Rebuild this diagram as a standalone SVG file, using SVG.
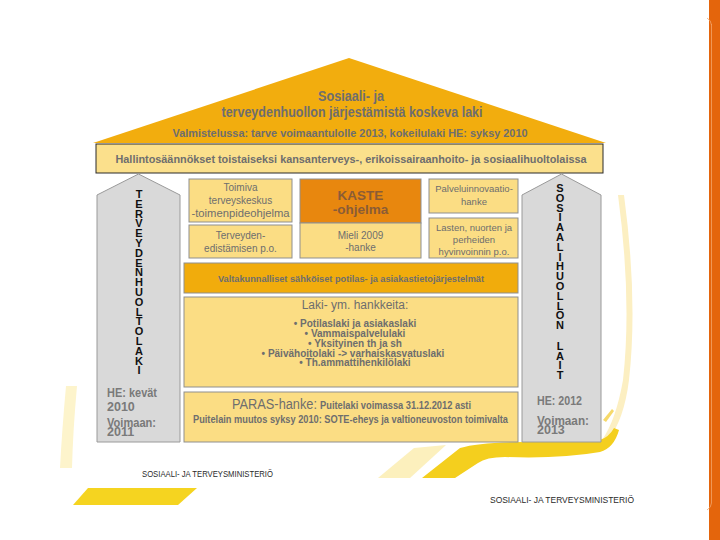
<svg xmlns="http://www.w3.org/2000/svg" width="720" height="540" viewBox="0 0 720 540">
<style>
  .t{font-family:"Liberation Sans",Arial,sans-serif;fill:#6e6e6e}
  .b{font-weight:bold}
  .c{text-anchor:middle}
  .lt{font-family:"Liberation Sans",Arial,sans-serif;font-weight:bold;font-size:11px;fill:#111;text-anchor:middle}
  .pil{fill:#d9d9d9;stroke:#9a9a9a;stroke-width:1}
  .lb{fill:#fbdd84;stroke:#8f8f8f;stroke-width:1}
  .gold{fill:#f1ac0c;stroke:#8f8f8f;stroke-width:1}
  .ft{font-family:"Liberation Sans",Arial,sans-serif;font-size:9.5px;fill:#2a2a2a}
  .ph{font-family:"Liberation Sans",Arial,sans-serif;font-weight:bold;font-size:12.5px;fill:#7a7a7a}
</style>
<rect x="0" y="0" width="720" height="540" fill="#ffffff"/>
<g id="decor">
  <path d="M66 386 L77 386 Q73 430 72 468 L60 468 Q62 430 66 386 Z" fill="#fdf4cc"/>
  <path d="M618 195 Q632 300 623 380 Q616 420 602 440 L608 440 Q624 420 629 380 Q638 300 624 195 Z" fill="#fcefc2"/>
  <path d="M378 478 L414 448 L446 445 L410 478 Z" fill="#fcf0bd"/>
  <path d="M422 478 L460 448 Q480 442 525 442 L600 440 Q609 437 614 428 L619 430 Q614 448 600 452 Q560 459 505 457 Q486 457 478 463 L455 478 Z" fill="#f4cf1e"/>
  <path d="M73 505 L88 488 L197 488 L178 505 Z" fill="#f5d420"/>
  <path d="M603 420 L612 409 L614 411 L606 422 Z" fill="#f6d96a"/>
</g>
<g id="roof">
  <polygon points="93,143 349,58 606,143" fill="#f2ad0e"/>
  <text class="t b c" x="351" y="101" font-size="14" textLength="66" lengthAdjust="spacingAndGlyphs">Sosiaali- ja</text>
  <text class="t b c" x="352" y="117" font-size="14" textLength="261" lengthAdjust="spacingAndGlyphs">terveydenhuollon järjestämistä koskeva laki</text>
  <text class="t b c" x="350" y="137" font-size="11.5" textLength="355" lengthAdjust="spacingAndGlyphs">Valmistelussa: tarve voimaantulolle 2013, kokeilulaki HE: syksy 2010</text>
</g>
<g id="header">
  <rect x="96" y="144" width="507" height="29" fill="#fbe08c" stroke="#2a2a2a" stroke-width="1"/>
  <text class="t b c" x="351" y="163" font-size="11.5" textLength="471" lengthAdjust="spacingAndGlyphs">Hallintosäännökset toistaiseksi kansanterveys-, erikoissairaanhoito-  ja sosiaalihuoltolaissa</text>
</g>
<g id="left-pillar">
  <polygon class="pil" points="97,195 138.5,174 180,195 180,442 97,442"/>
  <text class="lt">
    <tspan x="139" y="198">T</tspan><tspan x="139" y="207.8">E</tspan><tspan x="139" y="217.6">R</tspan><tspan x="139" y="227.4">V</tspan><tspan x="139" y="237.2">E</tspan><tspan x="139" y="247">Y</tspan><tspan x="139" y="256.8">D</tspan><tspan x="139" y="266.6">E</tspan><tspan x="139" y="276.4">N</tspan><tspan x="139" y="286.2">H</tspan><tspan x="139" y="296">U</tspan><tspan x="139" y="305.8">O</tspan><tspan x="139" y="315.6">L</tspan><tspan x="139" y="325.4">T</tspan><tspan x="139" y="335.2">O</tspan><tspan x="139" y="345">L</tspan><tspan x="139" y="354.8">A</tspan><tspan x="139" y="364.6">K</tspan><tspan x="139" y="374.4">I</tspan>
  </text>
  <text class="ph" x="107" y="397" textLength="50" lengthAdjust="spacingAndGlyphs">HE: kevät</text>
  <text class="ph" x="107" y="411">2010</text>
  <text class="ph" x="107" y="427" textLength="49" lengthAdjust="spacingAndGlyphs">Voimaan:</text>
  <text class="ph" x="107" y="436">2011</text>
</g>
<g id="right-pillar">
  <polygon class="pil" points="522,195 561.5,174 601,195 601,442 522,442"/>
  <text class="lt">
    <tspan x="560" y="192">S</tspan><tspan x="560" y="201.8">O</tspan><tspan x="560" y="211.6">S</tspan><tspan x="560" y="221.4">I</tspan><tspan x="560" y="231.2">A</tspan><tspan x="560" y="241">A</tspan><tspan x="560" y="250.8">L</tspan><tspan x="560" y="260.6">I</tspan><tspan x="560" y="270.4">H</tspan><tspan x="560" y="280.2">U</tspan><tspan x="560" y="290">O</tspan><tspan x="560" y="299.8">L</tspan><tspan x="560" y="309.6">L</tspan><tspan x="560" y="319.4">O</tspan><tspan x="560" y="329.2">N</tspan><tspan x="560" y="349.8">L</tspan><tspan x="560" y="359.6">A</tspan><tspan x="560" y="369.4">I</tspan><tspan x="560" y="379.2">T</tspan>
  </text>
  <text class="ph" x="537" y="405" textLength="45" lengthAdjust="spacingAndGlyphs">HE: 2012</text>
  <text class="ph" x="537" y="425" textLength="52" lengthAdjust="spacingAndGlyphs">Voimaan:</text>
  <text class="ph" x="537" y="434">2013</text>
</g>
<g id="toimiva">
  <rect class="lb" x="189" y="179" width="103" height="43"/>
  <text class="t c" font-size="10" x="240.5" y="191">Toimiva</text>
  <text class="t c" font-size="10" x="240.5" y="204">terveyskeskus</text>
  <text class="t c" font-size="10" x="240.5" y="217" textLength="98" lengthAdjust="spacingAndGlyphs">-toimenpideohjelma</text>
</g>
<g id="terveyden">
  <rect class="lb" x="189" y="225" width="103" height="33"/>
  <text class="t c" font-size="10" x="240.5" y="239">Terveyden-</text>
  <text class="t c" font-size="10" x="240.5" y="252">edistämisen p.o.</text>
</g>
<g id="kaste">
  <rect x="300" y="179" width="121" height="44" fill="#e8870e" stroke="#8f8f8f" stroke-width="1"/>
  <text class="b c" x="360.5" y="200" font-size="13.5" font-family="Liberation Sans, Arial, sans-serif" fill="#8a5c36">KASTE</text>
  <text class="b c" x="360.5" y="214" font-size="13.5" font-family="Liberation Sans, Arial, sans-serif" fill="#8a5c36">-ohjelma</text>
</g>
<g id="mieli">
  <rect class="lb" x="300" y="223" width="121" height="35"/>
  <text class="t c" font-size="10" x="360.5" y="239">Mieli 2009</text>
  <text class="t c" font-size="10" x="360.5" y="251">-hanke</text>
</g>
<g id="palvelu">
  <rect class="lb" x="429" y="179" width="89" height="34"/>
  <text class="t c" font-size="9.5" x="474" y="192">Palveluinnovaatio-</text>
  <text class="t c" font-size="9.5" x="474" y="205">hanke</text>
</g>
<g id="lasten">
  <rect class="lb" x="429" y="218" width="89" height="40"/>
  <text class="t c" font-size="9.5" x="474" y="230.5">Lasten, nuorten ja</text>
  <text class="t c" font-size="9.5" x="474" y="242.5">perheiden</text>
  <text class="t c" font-size="9.5" x="474" y="254.5">hyvinvoinnin p.o.</text>
</g>
<g id="valtakunnalliset">
  <rect class="gold" x="184" y="263" width="334" height="30"/>
  <text class="t b c" x="351" y="281.5" font-size="9.5" textLength="266" lengthAdjust="spacingAndGlyphs">Valtakunnalliset sähköiset potilas- ja asiakastietojärjestelmät</text>
</g>
<g id="laki">
  <rect class="lb" x="184" y="297" width="334" height="90"/>
  <text class="t c" x="355" y="309" font-size="12">Laki- ym. hankkeita:</text>
  <text class="t b c" x="355" y="327" font-size="10">• Potilaslaki ja asiakaslaki</text>
  <text class="t b c" x="355" y="337" font-size="10">• Vammaispalvelulaki</text>
  <text class="t b c" x="355" y="347" font-size="10">• Yksityinen th ja sh</text>
  <text class="t b c" x="353" y="356.5" font-size="10">• Päivähoitolaki -&gt; varhaiskasvatuslaki</text>
  <text class="t b c" x="355" y="366" font-size="10">• Th.ammattihenkilölaki</text>
</g>
<g id="paras">
  <rect class="lb" x="184" y="392" width="334" height="50" stroke="#2b2b2b"/>
  <text class="t" x="232" y="409" font-size="14" textLength="85" lengthAdjust="spacingAndGlyphs">PARAS-hanke:</text>
  <text class="t b" x="320" y="409" font-size="10" textLength="151" lengthAdjust="spacingAndGlyphs">Puitelaki voimassa 31.12.2012 asti</text>
  <text class="t b c" x="350.5" y="422.5" font-size="10" textLength="315" lengthAdjust="spacingAndGlyphs">Puitelain muutos syksy 2010: SOTE-eheys ja valtioneuvoston toimivalta</text>
</g>
<g id="connectors"/>
<g id="footer">
  <text class="ft" x="142" y="477" textLength="131" lengthAdjust="spacingAndGlyphs">SOSIAALI- JA TERVEYSMINISTERIÖ</text>
  <text class="ft" x="490" y="503" textLength="144" lengthAdjust="spacingAndGlyphs">SOSIAALI- JA TERVEYSMINISTERIÖ</text>
</g>
<g id="sidebar">
  <rect x="709" y="0" width="11" height="540" fill="#e4650c"/>
  <line x1="711.5" y1="24" x2="711.5" y2="503" stroke="#f2a46a" stroke-width="0.8"/>
  <path d="M707 18 Q711 20 711.5 25" fill="none" stroke="#f2a46a" stroke-width="0.8"/>
  <path d="M711.5 503 Q711 508 707 510" fill="none" stroke="#f2a46a" stroke-width="0.8"/>
</g>
</svg>
